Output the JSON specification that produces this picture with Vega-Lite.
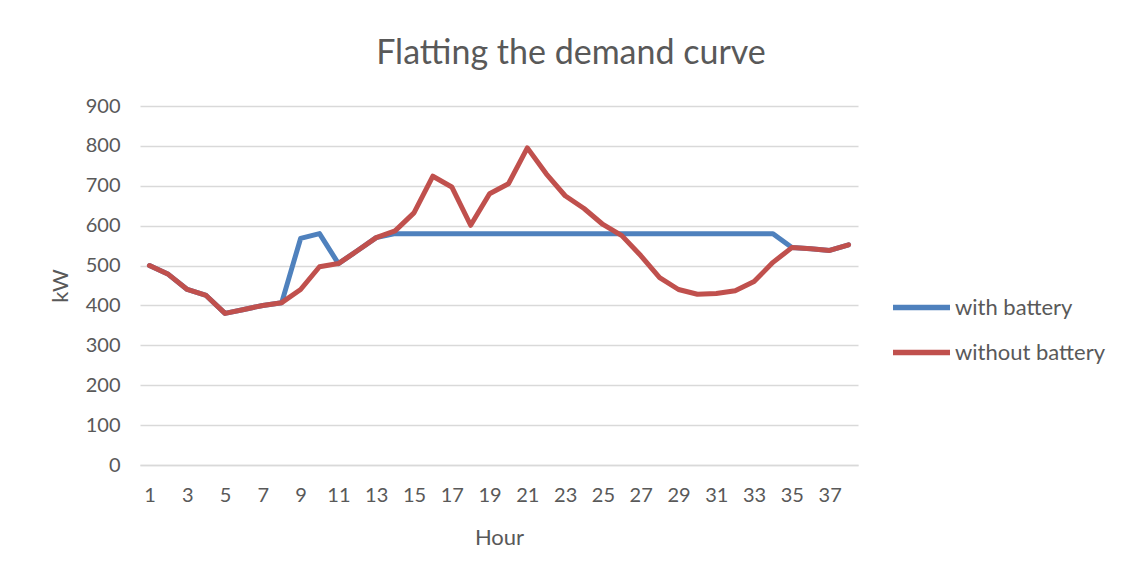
{
  "$schema": "https://vega.github.io/schema/vega-lite/v6.json",
  "autosize": {"type": "none"},
  "padding": {"left": 140, "top": 106, "right": 270, "bottom": 111},
  "width": 718,
  "height": 359,
  "background": "white",
  "config": {
    "font": "Lato",
    "view": {"stroke": null},
    "title": {"font": "Lato", "fontSize": 34, "fontWeight": "normal", "color": "#595959"}
  },
  "title": {"text": "Flatting the demand curve", "dx": 72, "offset": 25, "anchor": "middle"},
  "data": {
    "values": [
      {"hour": 1, "series": "with battery", "kW": 500},
      {"hour": 2, "series": "with battery", "kW": 478},
      {"hour": 3, "series": "with battery", "kW": 440},
      {"hour": 4, "series": "with battery", "kW": 425},
      {"hour": 5, "series": "with battery", "kW": 380},
      {"hour": 6, "series": "with battery", "kW": 390},
      {"hour": 7, "series": "with battery", "kW": 400},
      {"hour": 8, "series": "with battery", "kW": 407},
      {"hour": 9, "series": "with battery", "kW": 568},
      {"hour": 10, "series": "with battery", "kW": 580},
      {"hour": 11, "series": "with battery", "kW": 505},
      {"hour": 12, "series": "with battery", "kW": 537},
      {"hour": 13, "series": "with battery", "kW": 570},
      {"hour": 14, "series": "with battery", "kW": 580},
      {"hour": 15, "series": "with battery", "kW": 580},
      {"hour": 16, "series": "with battery", "kW": 580},
      {"hour": 17, "series": "with battery", "kW": 580},
      {"hour": 18, "series": "with battery", "kW": 580},
      {"hour": 19, "series": "with battery", "kW": 580},
      {"hour": 20, "series": "with battery", "kW": 580},
      {"hour": 21, "series": "with battery", "kW": 580},
      {"hour": 22, "series": "with battery", "kW": 580},
      {"hour": 23, "series": "with battery", "kW": 580},
      {"hour": 24, "series": "with battery", "kW": 580},
      {"hour": 25, "series": "with battery", "kW": 580},
      {"hour": 26, "series": "with battery", "kW": 580},
      {"hour": 27, "series": "with battery", "kW": 580},
      {"hour": 28, "series": "with battery", "kW": 580},
      {"hour": 29, "series": "with battery", "kW": 580},
      {"hour": 30, "series": "with battery", "kW": 580},
      {"hour": 31, "series": "with battery", "kW": 580},
      {"hour": 32, "series": "with battery", "kW": 580},
      {"hour": 33, "series": "with battery", "kW": 580},
      {"hour": 34, "series": "with battery", "kW": 580},
      {"hour": 35, "series": "with battery", "kW": 545},
      {"hour": 36, "series": "with battery", "kW": 542},
      {"hour": 37, "series": "with battery", "kW": 538},
      {"hour": 38, "series": "with battery", "kW": 552},
      {"hour": 1, "series": "without battery", "kW": 500},
      {"hour": 2, "series": "without battery", "kW": 478},
      {"hour": 3, "series": "without battery", "kW": 440},
      {"hour": 4, "series": "without battery", "kW": 425},
      {"hour": 5, "series": "without battery", "kW": 380},
      {"hour": 6, "series": "without battery", "kW": 390},
      {"hour": 7, "series": "without battery", "kW": 400},
      {"hour": 8, "series": "without battery", "kW": 407},
      {"hour": 9, "series": "without battery", "kW": 440},
      {"hour": 10, "series": "without battery", "kW": 497},
      {"hour": 11, "series": "without battery", "kW": 505},
      {"hour": 12, "series": "without battery", "kW": 537},
      {"hour": 13, "series": "without battery", "kW": 570},
      {"hour": 14, "series": "without battery", "kW": 587},
      {"hour": 15, "series": "without battery", "kW": 632},
      {"hour": 16, "series": "without battery", "kW": 724},
      {"hour": 17, "series": "without battery", "kW": 697},
      {"hour": 18, "series": "without battery", "kW": 601},
      {"hour": 19, "series": "without battery", "kW": 680},
      {"hour": 20, "series": "without battery", "kW": 705},
      {"hour": 21, "series": "without battery", "kW": 795},
      {"hour": 22, "series": "without battery", "kW": 730},
      {"hour": 23, "series": "without battery", "kW": 675},
      {"hour": 24, "series": "without battery", "kW": 643},
      {"hour": 25, "series": "without battery", "kW": 603},
      {"hour": 26, "series": "without battery", "kW": 575},
      {"hour": 27, "series": "without battery", "kW": 525},
      {"hour": 28, "series": "without battery", "kW": 470},
      {"hour": 29, "series": "without battery", "kW": 440},
      {"hour": 30, "series": "without battery", "kW": 428},
      {"hour": 31, "series": "without battery", "kW": 430},
      {"hour": 32, "series": "without battery", "kW": 437},
      {"hour": 33, "series": "without battery", "kW": 460},
      {"hour": 34, "series": "without battery", "kW": 508},
      {"hour": 35, "series": "without battery", "kW": 545},
      {"hour": 36, "series": "without battery", "kW": 542},
      {"hour": 37, "series": "without battery", "kW": 538},
      {"hour": 38, "series": "without battery", "kW": 552}
    ]
  },
  "mark": {"type": "line", "strokeWidth": 5, "strokeJoin": "round", "strokeCap": "round"},
  "encoding": {
    "x": {
      "field": "hour",
      "type": "ordinal",
      "sort": "ascending",
      "scale": {"paddingInner": 0, "paddingOuter": 0},
      "axis": {
        "title": "Hour",
        "titleFont": "Lato",
        "titleFontSize": 22,
        "titleFontWeight": "normal",
        "titleColor": "#595959",
        "titlePadding": 22,
        "labelAngle": 0,
        "labelFontSize": 20,
        "labelColor": "#595959",
        "labelPadding": 20,
        "labelExpr": "datum.value % 2 == 1 ? datum.label : ''",
        "ticks": false,
        "domainColor": "#d9d9d9",
        "domainWidth": 1.5,
        "grid": false
      }
    },
    "y": {
      "field": "kW",
      "type": "quantitative",
      "scale": {"domain": [0, 900]},
      "axis": {
        "title": "kW",
        "titleFont": "Lato",
        "titleFontSize": 22,
        "titleFontWeight": "normal",
        "titleColor": "#595959",
        "titlePadding": 13,
        "values": [0, 100, 200, 300, 400, 500, 600, 700, 800, 900],
        "labelFontSize": 20,
        "labelColor": "#595959",
        "labelPadding": 20,
        "ticks": false,
        "domain": false,
        "grid": true,
        "gridColor": "#d9d9d9",
        "gridWidth": 1.5
      }
    },
    "color": {
      "field": "series",
      "type": "nominal",
      "scale": {"domain": ["with battery", "without battery"], "range": ["#4f81bd", "#c0504d"]},
      "legend": {
        "title": null,
        "orient": "none",
        "legendX": 750,
        "legendY": 170,
        "symbolType": "stroke",
        "symbolSize": 3249,
        "symbolStrokeWidth": 5.5,
        "labelFontSize": 22,
        "labelColor": "#595959",
        "labelOffset": 2,
        "rowPadding": 2,
        "labelLimit": 300
      }
    }
  }
}
